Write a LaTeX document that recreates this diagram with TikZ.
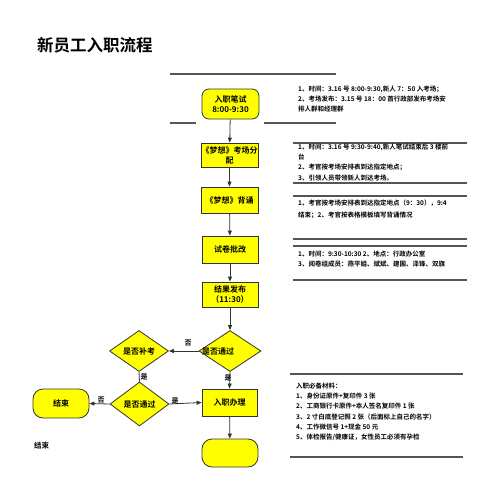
\documentclass[tikz,border=0pt]{standalone}
\usepackage{fontspec}
\setmainfont{Noto Sans CJK SC}[BoldFont={Noto Sans CJK SC Bold}]
\usetikzlibrary{shapes.geometric,arrows.meta}
\definecolor{ybox}{HTML}{FFFF00}
\definecolor{edge}{HTML}{333333}
\definecolor{rule}{HTML}{555555}
\tikzset{
  box/.style={draw=edge,fill=ybox,line width=0.8pt,inner sep=0pt,font=\fontsize{8}{10}\selectfont\bfseries,align=center},
  dia/.style={box,shape=diamond,aspect=1.5},
  conn/.style={draw=edge,line width=0.8pt,-{Triangle[length=5pt,width=4pt]}},
  lbl/.style={font=\fontsize{7}{8}\selectfont\bfseries,inner sep=0pt},
  note/.style={font=\fontsize{6.5}{10.3}\selectfont\bfseries,align=left,anchor=north west,inner sep=0pt},
  hr/.style={draw=rule,line width=1.1pt}
}
\begin{document}
\begin{tikzpicture}[x=1pt,y=-1pt]
\useasboundingbox (0,0) rectangle (499,485);
\node[font=\fontsize{16.5}{18}\selectfont\bfseries,inner sep=0pt] (title) at (95,45) {新员工入职流程};

% rules
\draw[hr] (170,74) -- (336,74);
\draw[hr] (170,123) -- (196,123);
\draw[hr] (264,123) -- (336,123);
\draw[hr] (293,143) -- (467,143);
\draw[hr] (293,183) -- (467,183);
\draw[hr] (293,196) -- (467,196);
\draw[hr] (293,239) -- (467,239);
\draw[hr] (293,246) -- (467,246);
\draw[hr] (293,280) -- (467,280);
\draw[hr] (290,374) -- (463,374);
\draw[hr] (290,457) -- (463,457);

% notes
\node[note] (t1) at (298,85.5) {1、时间：3.16 号 8:00-9:30,新人 7：50 入考场；\\2、考场发布：3.15 号 18：00 首行政部发布考场安\\排人群和经理群};
\node[note] (t2) at (298,143.5) {1、时间：3.16 号 9:30-9:40,新人笔试结束后 3 楼前\\台\\2、考官按考场安排表到达指定地点；\\3、引领人员带领新人到达考场。};
\node[note,font=\fontsize{6.5}{12}\selectfont\bfseries] (t3) at (298,199.5) {1、考官按考场安排表到达指定地点（9：30），9:4\\结束；2、考官按表格模板填写背诵情况};
\node[note] (t4) at (298,250.5) {1、时间：9:30-10:30 2、地点：行政办公室\\3、阅卷组成员：燕平姐、斌斌、建国、泽锋、双旗};
\node[note] (t5) at (296,382.5) {入职必备材料：\\1、身份证原件+复印件 3 张\\2、工商银行卡原件+本人签名复印件 1 张\\3、2 寸白底登记照 2 张（后面标上自己的名字）\\4、工作微信号 1+现金 50 元\\5、体检报告/健康证，女性员工必须有孕检};

% flow nodes
\node[box,rounded corners=7pt,minimum width=57pt,minimum height=30pt] (n1) at (230.5,104) {入职笔试\\8:00-9:30};
\node[box,minimum width=57pt,minimum height=24pt] (n2) at (229.5,155) {《梦想》考场分\\配};
\node[box,minimum width=57pt,minimum height=26pt] (n3) at (229.5,200) {《梦想》背诵};
\node[box,minimum width=56pt,minimum height=27pt] (n4) at (230,249.5) {试卷批改};
\node[box,minimum width=56pt,minimum height=25pt] (n5) at (230,294.5) {结果发布\\（11:30）};
\node[dia,minimum width=62pt,minimum height=41pt,label={[font=\fontsize{8}{10}\selectfont\bfseries,xshift=-12pt]center:是否通过}] (d1) at (230,351) {};
\node[dia,minimum width=59pt,minimum height=41pt] (d2) at (139,351) {是否补考};
\node[dia,minimum width=59pt,minimum height=44pt] (d3) at (139.5,404) {是否通过};
\node[box,minimum width=55pt,minimum height=27pt] (n6) at (229.5,402.5) {入职办理};
\node[box,rounded corners=10pt,minimum width=56pt,minimum height=29pt] (e1) at (61,403.5) {结束};
\node[box,rounded corners=10pt,minimum width=56pt,minimum height=28pt] (e2) at (230,453) {};

% connectors
\draw[conn] (n1) -- (n2);
\draw[conn] (n2) -- (n3);
\draw[conn] (n3) -- (n4);
\draw[conn] (n4) -- (n5);
\draw[conn] (n5) -- (d1);
\draw[conn] (d1.west) -- (d2.east);
\draw[draw=edge,line width=0.8pt] (d2.south) -- (d3.north);
\draw[conn] (d3.east) -- (n6.west);
\draw[conn] (d3.west) -- (e1.east);
\draw[conn] (d1.south) -- (n6.north);
\draw[conn] (n6) -- (e2);

% labels
\node[lbl] (l1) at (188,343) {否};
\node[lbl] (l2) at (144,377) {是};
\node[lbl] (l3) at (175,401) {是};
\node[lbl] (l4) at (101,400) {否};
\node[lbl] (l5) at (228,378) {是};
\node[lbl,anchor=west,font=\fontsize{7.5}{9}\selectfont\bfseries] (end) at (34,446) {结束};
\end{tikzpicture}
\end{document}
